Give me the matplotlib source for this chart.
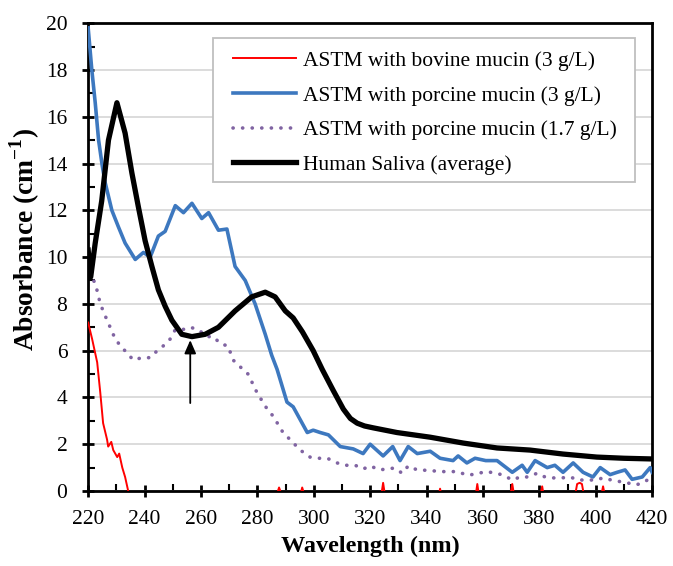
import matplotlib
matplotlib.use("Agg")
import matplotlib.pyplot as plt
from matplotlib.ticker import MultipleLocator
from matplotlib.patches import Rectangle

plt.rcParams['font.family'] = ['Liberation Serif', 'DejaVu Serif']
plt.rcParams['mathtext.fontset'] = 'custom'
plt.rcParams['mathtext.rm'] = 'Liberation Serif'
plt.rcParams['mathtext.bf'] = 'Liberation Serif:bold'

# ---------------- data ----------------
labels = ["ASTM with bovine mucin (3 g/L)",
          "ASTM with porcine mucin (3 g/L)",
          "ASTM with porcine mucin (1.7 g/L)",
          "Human Saliva (average)"]

bovine_wl = [220, 221.4, 223.2, 224.3, 225.3, 226.7, 227.1, 228.2, 228.9, 230.3, 231, 232.1, 233.1,
             234.2, 235, 286.5, 287.7, 289, 295, 295.9, 297, 323.8, 324.6, 325.4, 344.2, 344.8, 345.4,
             357.3, 358, 358.7, 369.6, 370.4, 371.2, 380.3, 381, 381.7, 392.5, 393.4, 394.3, 395.1, 396,
             401.8, 402.6, 403.4, 420]
bovine_abs = [7.2, 6.5, 5.5, 4.2, 2.9, 2.2, 1.9, 2.1, 1.75, 1.45, 1.6, 1.0, 0.6,
              0.0, -0.3, -0.3, 0.15, -0.3, -0.3, 0.15, -0.3, -0.3, 0.35, -0.3, -0.3, 0.1, -0.3,
              -0.3, 0.3, -0.3, -0.3, 0.3, -0.3, -0.3, 0.2, -0.3, -0.3, 0.3, 0.35, 0.3, -0.3,
              -0.3, 0.2, -0.3, -0.3]

porcine3_wl = [220, 221.3, 222.5, 223.7, 225, 226, 228.4, 230.7, 233.1, 236.7, 239.6, 242,
               244.9, 247.3, 250.9, 253.8, 256.8, 260.3, 262.7, 266.2, 269.2, 272.1, 275.7, 279.2,
               282.8, 285.1, 287, 290.5, 292.7, 297.7, 299.8, 302.3, 305.2, 309.4, 314, 317.5, 320, 324.6,
               328, 330.6, 333.5, 336.7, 341.3, 344.8, 349.4, 351.2, 354.3, 357.2, 361, 365, 370.4,
               373.9, 375.7, 378.5, 382.8, 385.5, 388.4, 392, 395.5, 399, 401.6, 405.1, 407.6, 410.4,
               412.9, 416.5, 419.3, 420]
porcine3_abs = [19.8, 18.0, 16.6, 15.0, 13.9, 13.2, 12.0, 11.3, 10.6, 9.9, 10.2, 10.0,
                10.9, 11.1, 12.2, 11.9, 12.3, 11.65, 11.9, 11.15, 11.2, 9.6, 9.0, 8.0,
                6.7, 5.8, 5.2, 3.8, 3.6, 2.5, 2.6, 2.5, 2.4, 1.9, 1.8, 1.6, 2.0, 1.5,
                1.9, 1.3, 1.9, 1.6, 1.7, 1.4, 1.3, 1.5, 1.2, 1.4, 1.3, 1.3, 0.8,
                1.1, 0.8, 1.3, 1.0, 1.1, 0.8, 1.2, 0.8, 0.6, 1.0, 0.7, 0.8, 0.9,
                0.5, 0.6, 1.0, 0.8]

porcine17_wl = [220, 222.5, 224.3, 226, 227.8, 229.6, 231.5, 233.8, 236, 239.1, 242, 244.5, 246.6,
                249.1, 250.9, 253.5, 256.2, 259, 262.2, 264.5, 266.8, 269.6, 271.4, 274, 276.7, 279.9,
                283.5, 285.6, 289.1, 291.6, 295.2, 298.7, 301.6, 304.8, 308.3, 311.1, 314.7, 317.5,
                320, 323.5, 327, 329, 331.3, 333.5, 336.7, 341, 344.8, 348, 351, 354.3, 357.5, 360.8,
                364, 367.2, 370.4, 373.2, 376, 379.2, 382, 384.9, 388, 390.9, 393.8, 397, 400, 402.6,
                405.5, 408.7, 411.5, 414, 416.8, 419.3, 420]
porcine17_abs = [9.3, 8.9, 8.0, 7.5, 7.0, 6.5, 6.2, 5.9, 5.6, 5.7, 5.7, 6.0, 6.2,
                 6.5, 6.9, 6.9, 7.0, 6.9, 6.6, 6.6, 6.3, 6.2, 5.6, 5.3, 5.0, 4.2,
                 3.5, 3.2, 2.5, 2.2, 1.75, 1.45, 1.4, 1.4, 1.2, 1.1, 1.1, 0.94,
                 1.07, 0.9, 0.97, 0.97, 0.76, 1.07, 0.9, 0.88, 0.83, 0.83, 0.83, 0.68, 0.72, 0.83,
                 0.78, 0.68, 0.47, 0.6, 0.6, 0.76, 0.6, 0.56, 0.56, 0.6, 0.47, 0.47, 0.47, 0.56,
                 0.47, 0.4, 0.34, 0.26, 0.34, 0.56, 0.6]

saliva_wl = [220, 220.9, 222.5, 224.8, 227.2, 230.2, 233.1, 235.5, 237.8, 240.2, 242.6, 244.9, 247.3,
             249.7, 253.2, 256.8, 261.5, 266.2, 272.1, 278, 282.8, 286.3, 289.9, 292.7, 296, 299.8,
             303, 306.9, 310.5, 313, 315.4, 318, 321.1, 329.5, 341.3, 353, 365, 376.7, 388.4, 400.4,
             410, 420]
saliva_abs = [10.3, 9.15, 10.6, 12.4, 15.0, 16.6, 15.3, 13.6, 12.15, 10.7, 9.6, 8.6, 7.9,
              7.3, 6.7, 6.6, 6.7, 7.0, 7.7, 8.3, 8.5, 8.3, 7.7, 7.4, 6.8, 6.0,
              5.2, 4.3, 3.5, 3.1, 2.9, 2.78, 2.7, 2.5, 2.3, 2.05, 1.84, 1.75, 1.58, 1.45,
              1.4, 1.37]

arrow_wl = 256.2
arrow_from = 3.76
arrow_to = 6.45

# ---------------- plot ----------------
fig = plt.figure(figsize=(6.73, 5.66), dpi=100)
ax = fig.add_axes([0.131, 0.1325, 0.838, 0.8265])

ax.plot(bovine_wl, bovine_abs, color='#FF0000', lw=1.4, label=labels[0], zorder=3)
ax.plot(porcine3_wl, porcine3_abs, color='#3D78BF', lw=2.6, label=labels[1], zorder=3,
        solid_joinstyle='round')
ax.plot(porcine17_wl, porcine17_abs, color='#8064A2', lw=2.6, label=labels[2], zorder=3,
        linestyle=(0, (0.05, 2.6)), dash_capstyle='round')
ax.plot(saliva_wl, saliva_abs, color='black', lw=3.8, label=labels[3], zorder=4,
        solid_joinstyle='round')

ax.annotate('', xy=(arrow_wl, arrow_to), xytext=(arrow_wl, arrow_from),
            arrowprops=dict(arrowstyle='-|>,head_length=0.8,head_width=0.35',
                            color='black', lw=1.3, shrinkA=0, shrinkB=0), zorder=5)

ax.set_xlim(220, 420)
ax.set_ylim(0, 20)
ax.xaxis.set_major_locator(MultipleLocator(20))
ax.xaxis.set_minor_locator(MultipleLocator(10))
ax.yaxis.set_major_locator(MultipleLocator(2))
ax.yaxis.set_minor_locator(MultipleLocator(1))
ax.grid(axis='y', which='major', color='#D9D9D9', lw=1.3, zorder=0)
ax.set_axisbelow(True)

for s in ax.spines.values():
    s.set_linewidth(2.0)
    s.set_color('black')
ax.tick_params(which='major', direction='inout', length=9, width=2, labelsize=15.5)
ax.tick_params(axis='y', which='major', pad=10.5)
ax.tick_params(axis='x', which='major', pad=9)
ax.tick_params(which='minor', direction='in', length=5, width=1.5)
ax.tick_params(axis='y', which='both', right=False)
ax.tick_params(axis='x', which='both', top=False)

ax.set_xlabel('Wavelength (nm)', fontsize=17.5, fontweight='bold', labelpad=5)
ax.set_ylabel(r'Absorbance (cm$^{\mathbf{-1}}$)', fontsize=19.8, fontweight='bold')
ax.yaxis.set_label_coords(-0.081, 0.538)

# legend frame (drawn separately for exact padding)
frame = Rectangle((0.222, 0.660), 0.748, 0.308, transform=ax.transAxes,
                  facecolor='white', edgecolor='#BFBFBF', lw=1.3, zorder=6)
ax.add_patch(frame)
leg = ax.legend(loc='upper left', bbox_to_anchor=(0.257, 0.941), fontsize=15.5,
                frameon=False, handlelength=2.93, handletextpad=0.33, labelspacing=0.68,
                borderpad=0, borderaxespad=0)
leg.set_zorder(7)

fig.savefig('out.png', dpi=100)
